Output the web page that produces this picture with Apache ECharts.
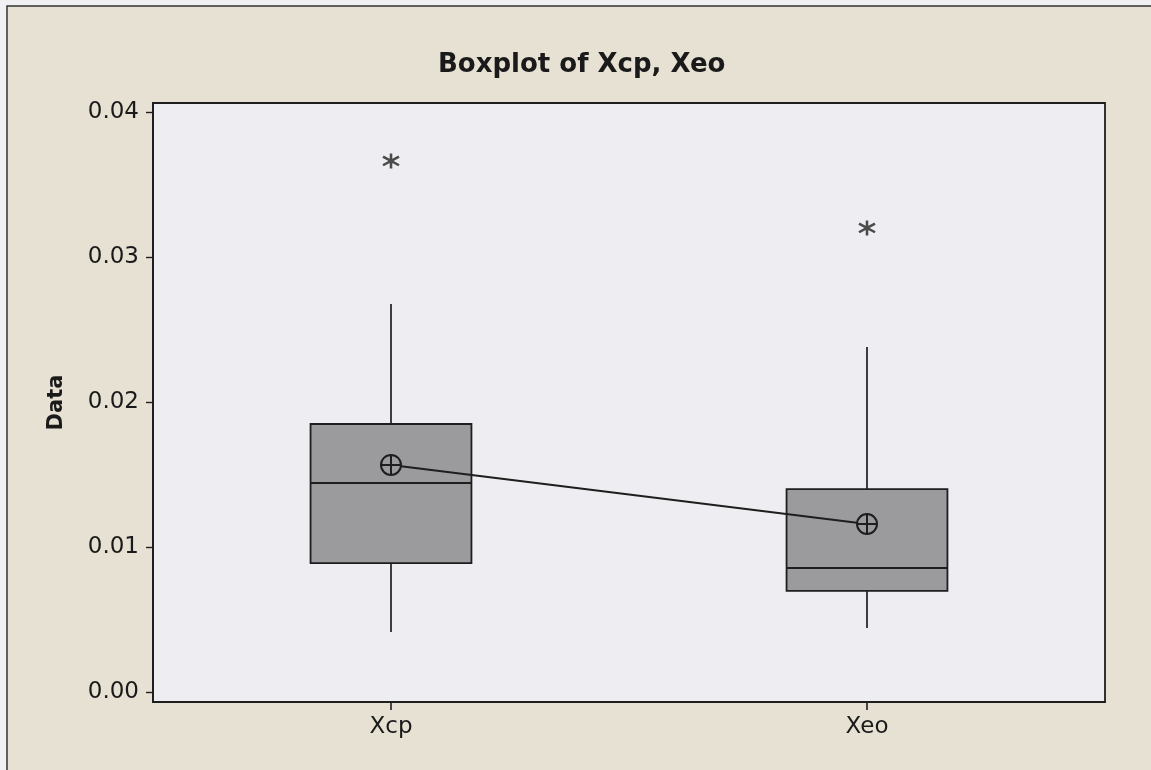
<!DOCTYPE html>
<html>
<head>
<meta charset="utf-8">
<script src="https://cdn.jsdelivr.net/npm/echarts@6/dist/echarts.min.js"></script>
<style>
  html, body { margin: 0; padding: 0; background: #f1f0f3; }
  #chart { width: 1151px; height: 770px; }
</style>
</head>
<body>
<div id="chart"></div>
<script>
// values
const categories = ['Xcp', 'Xeo'];
const whiskerLow = [0.00417, 0.00445];
const q1 = [0.00892, 0.00700];
const medians = [0.01444, 0.00858];
const q3 = [0.01850, 0.01402];
const whiskerHigh = [0.02677, 0.02381];
const means = [0.01568, 0.01161];
const outliers = [[0, 0.03663], [1, 0.03201]];
const yTicks = [0, 0.01, 0.02, 0.03, 0.04];

const boxFill = '#9b9a9d';
const ink = '#1e1e1e';

const boxData = categories.map((c, i) => [i, whiskerLow[i], q1[i], medians[i], q3[i], whiskerHigh[i]]);

const chart = echarts.init(document.getElementById('chart'));

const option = {
  backgroundColor: '#f1f0f3',
  animation: false,
  textStyle: { fontFamily: 'DejaVu Sans' },
  graphic: [{
    type: 'rect',
    z: -10,
    shape: { x: 7, y: 6, width: 1200, height: 800 },
    style: { fill: '#e6e1d3', stroke: '#333', lineWidth: 1.5 }
  }],
  title: {
    text: 'Boxplot of Xcp, Xeo',
    left: 433,
    top: 47,
    textStyle: { fontSize: 26, fontWeight: 'bold', color: '#1a1a1a', fontFamily: 'DejaVu Sans' }
  },
  grid: {
    left: 153, top: 103, width: 952, height: 599,
    show: true,
    backgroundColor: '#eeedf1',
    borderColor: ink,
    borderWidth: 1.8
  },
  xAxis: {
    type: 'category',
    data: categories,
    boundaryGap: true,
    axisLine: { onZero: false, lineStyle: { color: ink, width: 1.8 } },
    axisTick: { show: true, alignWithLabel: true, length: 8, lineStyle: { color: ink, width: 1.6 } },
    axisLabel: { color: '#1a1a1a', fontSize: 23, margin: 14 },
    splitLine: { show: false }
  },
  yAxis: {
    type: 'value',
    min: -0.000655,
    max: 0.04062,
    name: 'Data',
    nameLocation: 'middle',
    nameGap: 86,
    nameTextStyle: { fontSize: 21, fontWeight: 'bold', color: '#1a1a1a' },
    axisLine: { show: true, lineStyle: { color: ink, width: 1.8 } },
    axisTick: { show: true, length: 7, customValues: yTicks, lineStyle: { color: ink, width: 1.4 } },
    axisLabel: {
      color: '#1a1a1a', fontSize: 23, margin: 14,
      customValues: yTicks,
      formatter: v => v.toFixed(2)
    },
    splitLine: { show: false }
  },
  series: [
    {
      type: 'custom',
      data: boxData,
      z: 2,
      renderItem: function (params, api) {
        const x = api.value(0);
        const pLow = api.coord([x, api.value(1)]);
        const pQ1 = api.coord([x, api.value(2)]);
        const pMed = api.coord([x, api.value(3)]);
        const pQ3 = api.coord([x, api.value(4)]);
        const pHigh = api.coord([x, api.value(5)]);
        const w = api.size([1, 0])[0] * 0.338;
        const cx = pMed[0];
        const lineStyle = { stroke: ink, lineWidth: 1.7, fill: null };
        return {
          type: 'group',
          children: [
            { type: 'line', shape: { x1: cx, y1: pHigh[1], x2: cx, y2: pQ3[1] }, style: lineStyle },
            { type: 'line', shape: { x1: cx, y1: pQ1[1], x2: cx, y2: pLow[1] }, style: lineStyle },
            {
              type: 'rect',
              shape: { x: cx - w / 2, y: pQ3[1], width: w, height: pQ1[1] - pQ3[1] },
              style: { fill: boxFill, stroke: ink, lineWidth: 1.8 }
            },
            { type: 'line', shape: { x1: cx - w / 2, y1: pMed[1], x2: cx + w / 2, y2: pMed[1] }, style: { stroke: ink, lineWidth: 2 } }
          ]
        };
      }
    },
    {
      type: 'line',
      data: means,
      z: 5,
      symbol: 'path://M0,-10A10,10 0 1,1 0,10A10,10 0 1,1 0,-10ZM-10,0L10,0M0,-10L0,10',
      symbolSize: 20,
      showAllSymbol: true,
      lineStyle: { color: ink, width: 2 },
      itemStyle: { color: boxFill, borderColor: ink, borderWidth: 2 }
    },
    {
      type: 'scatter',
      data: outliers,
      z: 5,
      symbol: 'path://M0,-7L0,7M-6,-4L6,4M-6,4L6,-4',
      symbolSize: [16, 15],
      itemStyle: { color: 'none', borderColor: '#222', borderWidth: 2.5 }
    }
  ]
};

chart.setOption(option);
</script>
</body>
</html>
